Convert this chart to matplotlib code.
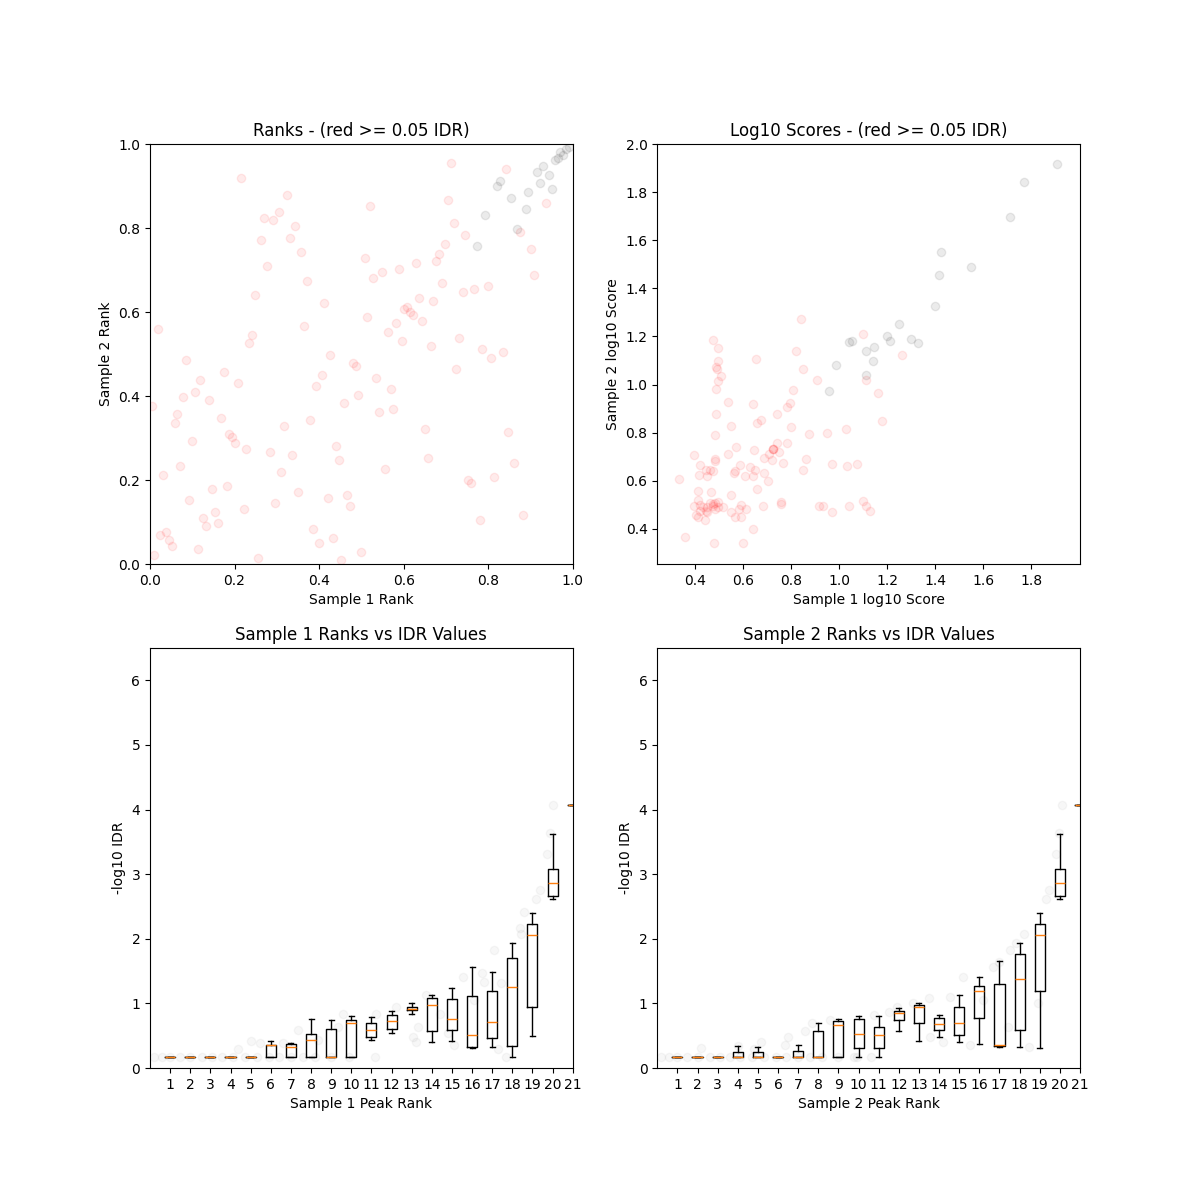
import matplotlib
matplotlib.use("Agg")
import matplotlib.pyplot as plt

# ---------------- data ----------------
# Ranks panel (normalised ranks)
rank_red_x = [0.215, 0.324, 0.304, 0.270, 0.290, 0.343, 0.331, 0.263, 0.358, 0.276,
              0.372, 0.249, 0.412, 0.365, 0.018, 0.242, 0.235, 0.426, 0.086, 0.174,
              0.119, 0.208, 0.106, 0.078, 0.140, 0.004, 0.065, 0.058, 0.167, 0.186,
              0.195, 0.201, 0.099, 0.228, 0.317, 0.283, 0.337, 0.378, 0.392, 0.406,
              0.072, 0.031, 0.147, 0.181, 0.092, 0.310, 0.296, 0.351, 0.222, 0.154,
              0.126, 0.160, 0.133, 0.024, 0.039, 0.045, 0.051, 0.113, 0.010, 0.256,
              0.385, 0.399, 0.420, 0.432, 0.453, 0.440, 0.446, 0.466, 0.473, 0.500,
              0.460, 0.493, 0.480, 0.487, 0.514, 0.508, 0.521, 0.528, 0.549, 0.589,
              0.630, 0.535, 0.569, 0.541, 0.575, 0.555, 0.562, 0.583, 0.596, 0.602,
              0.609, 0.616, 0.623, 0.637, 0.643, 0.664, 0.670, 0.677, 0.684, 0.691,
              0.699, 0.706, 0.712, 0.718, 0.746, 0.740, 0.766, 0.800, 0.732, 0.725,
              0.786, 0.807, 0.834, 0.650, 0.657, 0.752, 0.759, 0.780, 0.814, 0.848,
              0.861, 0.882, 0.841, 0.875, 0.902, 0.909, 0.936]
rank_red_y = [0.920, 0.879, 0.839, 0.825, 0.819, 0.804, 0.777, 0.771, 0.744, 0.709,
              0.675, 0.641, 0.621, 0.567, 0.560, 0.546, 0.526, 0.498, 0.485, 0.457,
              0.437, 0.430, 0.410, 0.397, 0.390, 0.377, 0.356, 0.336, 0.348, 0.309,
              0.302, 0.287, 0.294, 0.274, 0.329, 0.267, 0.260, 0.342, 0.423, 0.451,
              0.233, 0.213, 0.179, 0.186, 0.152, 0.220, 0.145, 0.172, 0.132, 0.125,
              0.110, 0.097, 0.090, 0.070, 0.076, 0.056, 0.043, 0.036, 0.022, 0.015,
              0.083, 0.049, 0.158, 0.063, 0.009, 0.281, 0.247, 0.165, 0.137, 0.029,
              0.383, 0.402, 0.478, 0.471, 0.587, 0.729, 0.852, 0.682, 0.695, 0.702,
              0.716, 0.444, 0.417, 0.362, 0.369, 0.226, 0.552, 0.573, 0.532, 0.607,
              0.613, 0.600, 0.593, 0.634, 0.579, 0.518, 0.627, 0.722, 0.737, 0.668,
              0.763, 0.866, 0.954, 0.811, 0.784, 0.648, 0.654, 0.661, 0.539, 0.464,
              0.512, 0.491, 0.505, 0.321, 0.253, 0.199, 0.192, 0.104, 0.206, 0.314,
              0.240, 0.117, 0.940, 0.790, 0.750, 0.689, 0.859]
rank_gray_x = [0.820, 0.827, 0.793, 0.774, 0.855, 0.868, 0.889, 0.895, 0.916, 0.930,
               0.923, 0.943, 0.950, 0.957, 0.964, 0.970, 0.977, 0.984, 0.991]
rank_gray_y = [0.899, 0.913, 0.831, 0.756, 0.872, 0.798, 0.845, 0.886, 0.933, 0.947,
               0.906, 0.927, 0.893, 0.961, 0.967, 0.981, 0.975, 0.988, 0.994]

# Log10 score panel
score_gray_x = [1.909, 1.768, 1.712, 1.422, 1.548, 1.414, 1.401, 1.247, 1.200, 1.210,
                1.299, 1.328, 1.039, 1.055, 1.112, 1.145, 1.142, 1.112, 0.988, 0.959]
score_gray_y = [1.917, 1.842, 1.697, 1.549, 1.487, 1.457, 1.326, 1.251, 1.200, 1.181,
                1.189, 1.174, 1.175, 1.182, 1.139, 1.158, 1.097, 1.038, 1.082, 0.975]
score_red_x = [0.840, 1.099, 1.262, 1.113, 1.161, 1.178, 0.819, 0.851, 0.906, 0.808,
               0.796, 0.783, 0.742, 0.801, 0.876, 0.948, 1.028, 0.781, 0.742, 0.723,
               0.723, 0.723, 0.748, 0.708, 0.721, 0.686, 0.764, 0.861, 0.851, 0.971,
               1.034, 1.076, 0.674, 0.656, 0.641, 0.652, 0.645, 0.571, 0.537, 0.586,
               0.630, 0.648, 0.564, 0.560, 0.640, 0.607, 0.686, 0.702, 0.656, 0.548,
               0.590, 0.583, 0.611, 0.564, 0.592, 0.548, 0.684, 0.757, 0.756, 0.914,
               0.931, 0.970, 1.040, 1.099, 1.113, 1.130, 0.641, 0.600, 0.480, 0.359,
               0.332, 0.473, 0.497, 0.497, 0.488, 0.490, 0.506, 0.497, 0.488, 0.488,
               0.481, 0.537, 0.548, 0.393, 0.422, 0.443, 0.460, 0.473, 0.417, 0.448,
               0.481, 0.481, 0.411, 0.466, 0.411, 0.393, 0.418, 0.402, 0.410, 0.439,
               0.444, 0.451, 0.462, 0.473, 0.484, 0.494, 0.476, 0.484, 0.494, 0.514,
               0.432, 0.418, 0.448]
score_red_y = [1.272, 1.210, 1.124, 1.019, 0.965, 0.850, 1.139, 1.065, 1.018, 0.979,
               0.925, 0.907, 0.879, 0.824, 0.794, 0.797, 0.814, 0.756, 0.758, 0.733,
               0.733, 0.733, 0.721, 0.711, 0.687, 0.693, 0.674, 0.689, 0.646, 0.671,
               0.663, 0.671, 0.851, 0.839, 0.918, 1.107, 0.728, 0.740, 0.711, 0.665,
               0.656, 0.643, 0.639, 0.632, 0.621, 0.618, 0.631, 0.600, 0.565, 0.540,
               0.500, 0.482, 0.482, 0.451, 0.451, 0.471, 0.497, 0.512, 0.504, 0.497,
               0.497, 0.469, 0.497, 0.514, 0.494, 0.475, 0.401, 0.340, 0.340, 0.367,
               0.607, 1.187, 1.153, 1.099, 1.074, 1.065, 1.037, 1.014, 0.982, 0.879,
               0.792, 0.929, 0.829, 0.707, 0.664, 0.643, 0.646, 0.640, 0.625, 0.619,
               0.690, 0.681, 0.557, 0.554, 0.522, 0.497, 0.501, 0.458, 0.450, 0.438,
               0.475, 0.490, 0.508, 0.504, 0.508, 0.511, 0.497, 0.483, 0.490, 0.490,
               0.490, 0.476, 0.469]

# Boxplot summaries (-log10 IDR) for rank bins 1..21
bins = list(range(1, 22))
s1_whislo = [0.17]*5 + [0.165, 0.165, 0.165, 0.165, 0.165, 0.433, 0.536, 0.829, 0.397, 0.417,
                        0.304, 0.319, 0.165, 0.489, 2.612, 4.065]
s1_q1 = [0.17]*5 + [0.165, 0.165, 0.165, 0.165, 0.165, 0.484, 0.598, 0.896, 0.567, 0.587,
                    0.330, 0.464, 0.335, 0.938, 2.669, 4.065]
s1_med = [0.17]*5 + [0.350, 0.319, 0.428, 0.165, 0.696, 0.587, 0.726, 0.917, 0.969, 0.752,
                     0.505, 0.706, 1.247, 2.066, 2.870, 4.065]
s1_q3 = [0.17]*5 + [0.361, 0.371, 0.526, 0.598, 0.742, 0.690, 0.814, 0.938, 1.077, 1.061,
                    1.108, 1.185, 1.695, 2.221, 3.086, 4.065]
s1_whishi = [0.17]*5 + [0.412, 0.381, 0.757, 0.742, 0.804, 0.783, 0.876, 0.999, 1.128, 1.231,
                        1.556, 1.479, 1.942, 2.406, 3.617, 4.065]

s2_whislo = [0.17, 0.17, 0.17, 0.165, 0.165, 0.17, 0.165, 0.165, 0.165, 0.165, 0.165,
             0.567, 0.412, 0.479, 0.397, 0.366, 0.330, 0.325, 0.309, 2.612, 4.065]
s2_q1 = [0.17, 0.17, 0.17, 0.165, 0.165, 0.17, 0.165, 0.165, 0.165, 0.304, 0.304,
         0.742, 0.701, 0.582, 0.515, 0.768, 0.340, 0.582, 1.190, 2.669, 4.065]
s2_med = [0.17, 0.17, 0.17, 0.170, 0.170, 0.17, 0.170, 0.170, 0.659, 0.520, 0.505,
          0.855, 0.943, 0.675, 0.690, 1.185, 0.361, 1.370, 2.066, 2.870, 4.065]
s2_q3 = [0.17, 0.17, 0.17, 0.242, 0.242, 0.17, 0.258, 0.567, 0.726, 0.757, 0.629,
         0.881, 0.974, 0.768, 0.938, 1.262, 1.298, 1.757, 2.221, 3.086, 4.065]
s2_whishi = [0.17, 0.17, 0.17, 0.340, 0.325, 0.17, 0.350, 0.690, 0.757, 0.804, 0.799,
             0.922, 1.005, 0.814, 1.123, 1.401, 1.649, 1.942, 2.406, 3.617, 4.065]

# faint individual peaks behind the boxes
s1_pts_x = [0.2, 0.6, 1.0, 1.5, 2.0, 2.6, 3.1, 3.6, 4.1, 4.7, 5.3, 5.9, 6.4, 7.0, 7.6, 8.2, 9.0, 9.9,
            4.38, 5.01, 5.46, 6.6, 7.36, 8.35, 9.35, 9.6, 11.2, 11.25, 12.2, 13.07, 13.2, 13.3,
            13.7, 14.4, 14.8, 15.1, 15.55, 16.1, 16.5, 16.6, 17.3, 17.45, 17.1, 17.7, 18.4,
            18.45, 18.6, 19.2, 19.35, 19.7, 19.85, 20.0]
s1_pts_y = [0.17]*18 + [0.30, 0.42, 0.38, 0.38, 0.59, 0.43, 0.64, 0.84, 0.175, 0.84, 0.95,
                        0.48, 0.40, 0.64, 1.13, 0.84, 0.54, 0.36, 1.41, 1.05, 1.47, 1.33,
                        0.30, 1.31, 1.82, 0.175, 2.16, 2.07, 2.42, 2.62, 2.75, 3.31, 3.63, 4.07]
s2_pts_x = [0.2, 0.6, 1.0, 1.5, 2.0, 2.6, 3.1, 3.6, 4.1, 4.7, 5.3, 5.9, 6.4, 7.0, 7.6, 8.2, 9.0, 9.9,
            2.15, 4.0, 4.8, 5.16, 6.37, 6.5, 7.33, 7.7, 8.57, 9.76, 10.6, 10.75, 11.5, 11.9,
            12.7, 13.5, 13.56, 14.2, 14.55, 15.2, 15.55, 16.2, 16.7, 17.0, 17.4, 17.5, 17.8,
            18.2, 18.45, 18.9, 19.3, 19.45, 19.8, 19.95, 20.1]
s2_pts_y = [0.17]*18 + [0.31, 0.345, 0.30, 0.40, 0.355, 0.48, 0.58, 0.70, 0.75, 0.175, 0.175,
                        0.82, 0.87, 0.95, 1.0, 1.08, 0.48, 0.41, 1.10, 1.41, 0.355, 1.05,
                        1.57, 1.64, 0.64, 1.82, 1.93, 2.08, 0.33, 1.0, 2.62, 2.75, 3.31,
                        3.63, 4.07]

# ---------------- plot ----------------
fig, axes = plt.subplots(2, 2, figsize=(12, 12), dpi=100)
ax1, ax2 = axes[0]
ax3, ax4 = axes[1]

ax1.scatter(rank_red_x, rank_red_y, c="red", alpha=0.08)
ax1.scatter(rank_gray_x, rank_gray_y, c="black", alpha=0.08)
ax1.set_xlim(0, 1)
ax1.set_ylim(0, 1)
ax1.set_title("Ranks - (red >= 0.05 IDR)")
ax1.set_xlabel("Sample 1 Rank")
ax1.set_ylabel("Sample 2 Rank")

ax2.scatter(score_red_x, score_red_y, c="red", alpha=0.08)
ax2.scatter(score_gray_x, score_gray_y, c="black", alpha=0.08)
ax2.set_xlim(0.242, 2.003)
ax2.set_ylim(0.254, 2.0)
ax2.set_xticks([0.4, 0.6, 0.8, 1.0, 1.2, 1.4, 1.6, 1.8])
ax2.set_title("Log10 Scores - (red >= 0.05 IDR)")
ax2.set_xlabel("Sample 1 log10 Score")
ax2.set_ylabel("Sample 2 log10 Score")


def box_panel(ax, lo, q1, med, q3, hi, px, py, n):
    stats = [dict(whislo=a, q1=b, med=c, q3=d, whishi=e, fliers=[])
             for a, b, c, d, e in zip(lo, q1, med, q3, hi)]
    ax.scatter(px, py, c="black", alpha=0.03)
    ax.bxp(stats, positions=bins, showfliers=False)
    ax.set_xlim(0, 21)
    ax.set_ylim(0, 6.5)
    ax.set_xticks(bins)
    ax.set_xticklabels([str(b) for b in bins])
    ax.set_title("Sample %d Ranks vs IDR Values" % n)
    ax.set_xlabel("Sample %d Peak Rank" % n)
    ax.set_ylabel("-log10 IDR")


box_panel(ax3, s1_whislo, s1_q1, s1_med, s1_q3, s1_whishi, s1_pts_x, s1_pts_y, 1)
box_panel(ax4, s2_whislo, s2_q1, s2_med, s2_q3, s2_whishi, s2_pts_x, s2_pts_y, 2)

fig.savefig("out.png", dpi=100)
